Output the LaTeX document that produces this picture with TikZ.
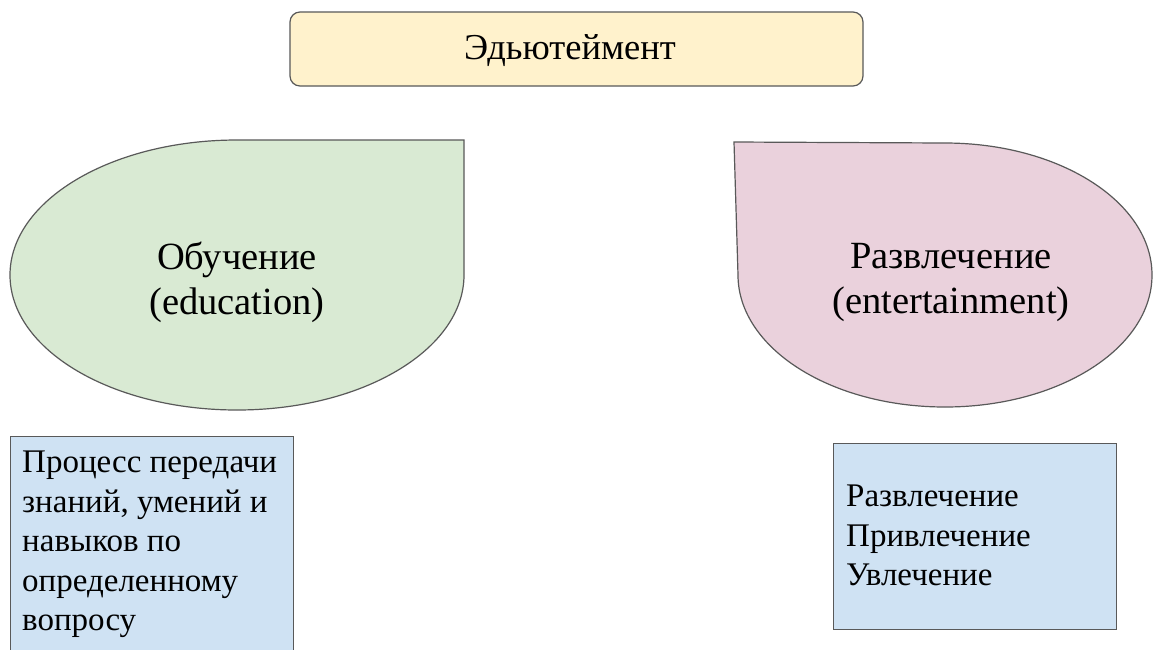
\documentclass[tikz,border=0pt]{standalone}
\usepackage{fontspec}
\setmainfont{Liberation Serif}
\definecolor{cyellow}{HTML}{FFF2CC}
\definecolor{cgreen}{HTML}{D9EAD3}
\definecolor{cpink}{HTML}{EAD1DC}
\definecolor{cblue}{HTML}{CFE2F3}
\definecolor{cline}{HTML}{595959}
\begin{document}
\begin{tikzpicture}[x=1pt,y=-1pt,
  outl/.style={draw=cline,line width=1.2pt},
  lbl/.style={font=\fontsize{38.5}{45}\selectfont,align=center,text=black},
  boxtxt/.style={font=\fontsize{33}{39.5}\selectfont,align=left,text=black,inner sep=0pt},
  infobox/.style={outl,fill=cblue,rectangle,inner sep=0pt,anchor=north west}]
\clip (0,0) rectangle (1154,649);
\fill[white] (0,0) rectangle (1154,649);
% title
\node[outl,fill=cyellow,rounded corners=10pt,minimum width=573pt,minimum height=74pt,inner sep=0pt] (title) at (576.5,49) {};
\node[font=\fontsize{36.5}{44}\selectfont,anchor=base,inner sep=0pt] (titletext) at (570,59) {Эдьютеймент};
% left drop shape
\path[outl,fill=cgreen] (464,140) -- (464,275)
  arc[start angle=0,end angle=270,x radius=227,y radius=135] -- cycle;
\node[lbl] (edu) at (237,282) {Обучение\\(education)};
% right drop shape
\path[outl,fill=cpink] (734,142) -- (738,275)
  arc[start angle=180,end angle=-90,x radius=207,y radius=132] -- cycle;
\node[lbl] (ent) at (951,282) {Развлечение\\(entertainment)};
% info boxes
\node[infobox,minimum width=283pt,minimum height=218pt] (lbox) at (10,436) {};
\node[boxtxt,anchor=west] (ltext) at ([xshift=12pt,yshift=1pt]lbox.west)
  {Процесс передачи\\знаний, умений и\\навыков по\\определенному\\вопросу};
\node[infobox,minimum width=283pt,minimum height=186pt] (rbox) at (833,443) {};
\node[boxtxt,anchor=west] (rtext) at ([xshift=13pt,yshift=1pt]rbox.west)
  {Развлечение\\Привлечение\\Увлечение};
\end{tikzpicture}
\end{document}
